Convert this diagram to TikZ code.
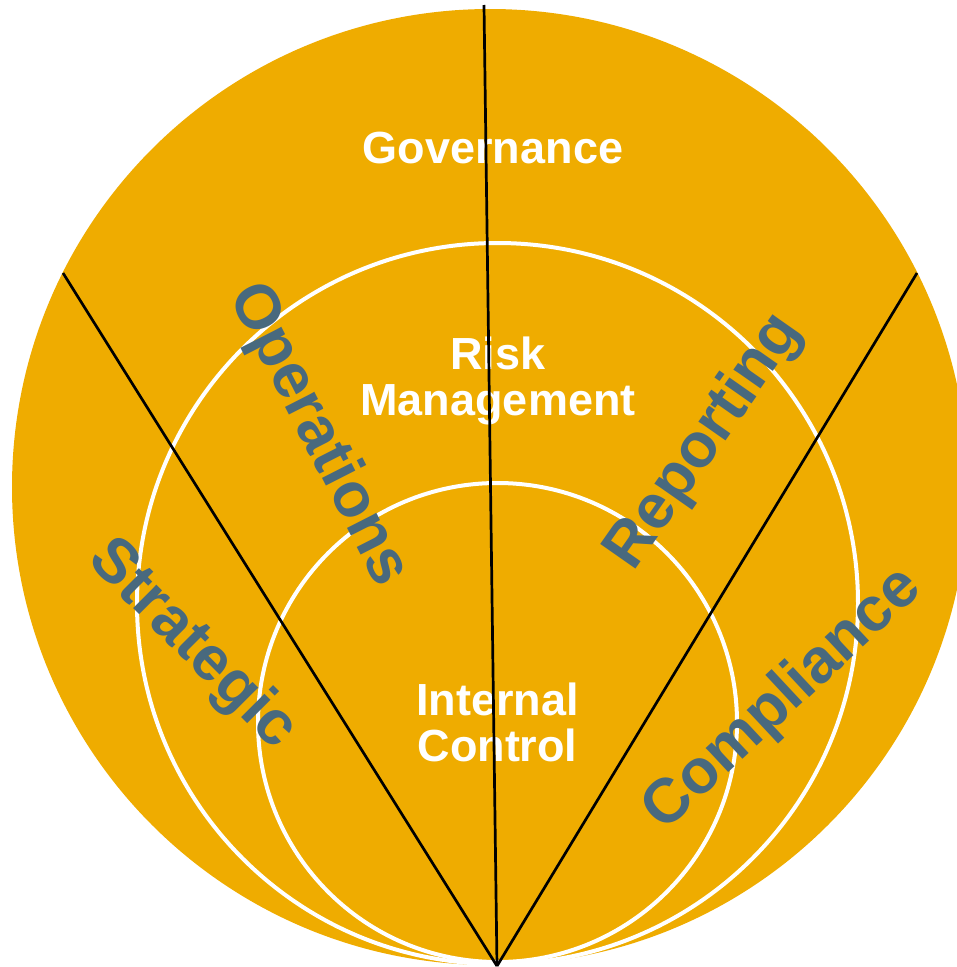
\documentclass[tikz,border=0pt]{standalone}
\usepackage{fontspec}
\setmainfont{Liberation Sans}
\definecolor{gold}{RGB}{239,172,0}
\definecolor{slate}{RGB}{72,105,126}
\begin{document}
\begin{tikzpicture}[x=1pt,y=-1pt,
  ring/.style={draw=white,line width=4pt},
  spoke/.style={draw=black,line width=2.7pt},
  level/.style={text=white,font=\bfseries\fontsize{45}{46}\selectfont,align=center,inner sep=0pt},
  area/.style={text=slate,font=\bfseries\fontsize{62.5}{64}\selectfont,inner sep=0pt}]
\useasboundingbox (0,0) rectangle (957,967);
% outer disc and the two nested rings, all touching near the bottom
\fill[gold] (490,487) circle[radius=478pt];
\draw[ring] (497.5,603.5) circle[radius=360.5pt];
\draw[ring] (497.5,722.5) circle[radius=239.5pt];
% level labels
\node[level,anchor=base] (gov) at (493,163) {Governance};
\node[level] (risk) at (498,381) {Risk\\Management};
\node[level] (ic) at (497.5,722) {Internal\\Control};
% objective labels along the sectors
\node[area,rotate=-63] (ops) at (318,435) {Operations};
\node[area,rotate=-45] (strat) at (192,645) {Strategic};
\node[area,rotate=55] (rep) at (705,442) {Reporting};
\node[area,rotate=43] (comp) at (783,700) {Compliance};
% sector dividers fanning out from the bottom point
\coordinate (apex) at (497,966);
\coordinate (tl) at (63,273);
\coordinate (tt) at (484,5);
\coordinate (tr) at (917,273);
\draw[spoke] (apex) -- (tl);
\draw[spoke] (apex) -- (tt);
\draw[spoke] (apex) -- (tr);
\end{tikzpicture}
\end{document}
